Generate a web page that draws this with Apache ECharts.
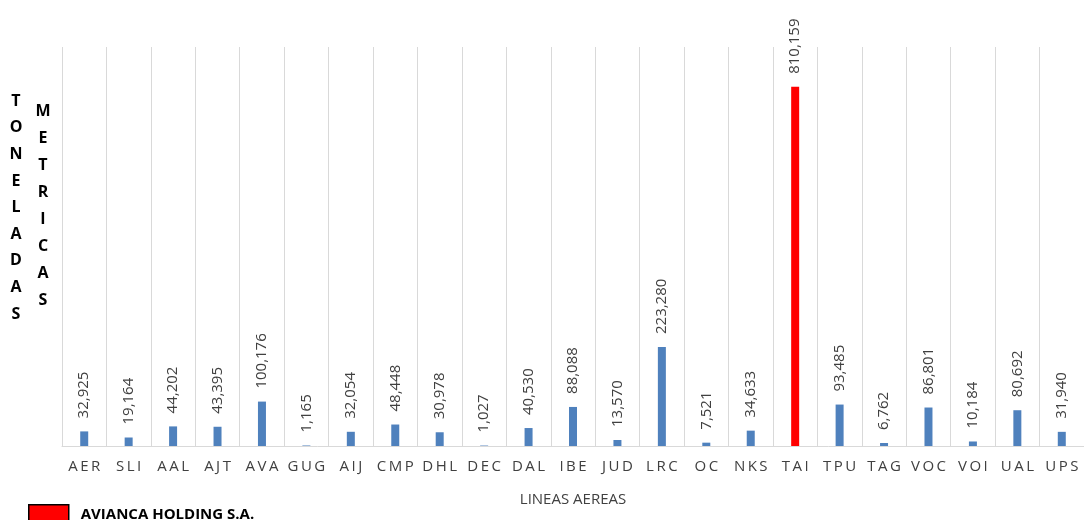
<!DOCTYPE html>
<html>
<head>
<meta charset="utf-8">
<script src="https://cdn.jsdelivr.net/npm/echarts@6/dist/echarts.min.js"></script>
<style>
  html, body { margin: 0; padding: 0; background: #fff; }
  #chart { width: 1084px; height: 520px; }
</style>
</head>
<body>
<div id="chart"></div>
<script>
// aerolineas
const categories = ['AER', 'SLI', 'AAL', 'AJT', 'AVA', 'GUG', 'AIJ', 'CMP', 'DHL', 'DEC', 'DAL', 'IBE',
  'JUD', 'LRC', 'OC', 'NKS', 'TAI', 'TPU', 'TAG', 'VOC', 'VOI', 'UAL', 'UPS']
// toneladas metricas
const values = [32925, 19164, 44202, 43395, 100176, 1165, 32054, 48448, 30978, 1027, 40530, 88088,
  13570, 223280, 7521, 34633, 810159, 93485, 6762, 86801, 10184, 80692, 31940]
const highlight = 'TAI'

const chart = echarts.init(document.getElementById('chart'))

const labelOpt = {
  show: true,
  position: 'top',
  rotate: 90,
  align: 'left',
  verticalAlign: 'middle',
  distance: 13,
  color: '#404040',
  fontSize: 15,
  fontFamily: 'Open Sans',
  formatter: p => p.value.toLocaleString('en-US')
}

const option = {
  animation: false,
  grid: { left: 62, right: 0, top: 47, bottom: 74 },
  legend: {
    left: 23, top: 499,
    icon: 'rect',
    itemWidth: 40, itemHeight: 19,
    textStyle: { fontWeight: 'bold', fontSize: 15, color: '#000', fontFamily: 'Open Sans',
      padding: [0, 0, 0, 7] },
    data: [{ name: 'AVIANCA HOLDING S.A.', itemStyle: { borderColor: '#000', borderWidth: 1.5 } }]
  },
  xAxis: {
    type: 'category',
    data: categories,
    name: 'LINEAS AEREAS',
    nameLocation: 'middle',
    nameGap: 46,
    nameTextStyle: { color: '#404040', fontSize: 15, fontFamily: 'Open Sans' },
    axisLine: { lineStyle: { color: '#d9d9d9' } },
    axisTick: { show: false },
    splitLine: { show: true, lineStyle: { color: '#d9d9d9' } },
    axisLabel: {
      interval: 0, margin: 13,
      color: '#404040', fontSize: 15, fontFamily: 'Open Sans',
      formatter: v => v.split('').join('\u2009')
    }
  },
  yAxis: {
    type: 'value', min: 0, max: 900000,
    show: false,
    splitLine: { show: false }
  },
  series: [
    {
      name: 'Toneladas',
      type: 'bar',
      stack: 'a',
      barWidth: 8,
      itemStyle: { color: '#4f81bd' },
      label: labelOpt,
      data: values.map((v, i) => categories[i] === highlight ? null : v)
    },
    {
      name: 'AVIANCA HOLDING S.A.',
      type: 'bar',
      stack: 'a',
      barWidth: 8,
      itemStyle: { color: '#ff0000' },
      label: labelOpt,
      data: values.map((v, i) => categories[i] === highlight ? v : null)
    }
  ],
  graphic: [
    {
      type: 'text', x: 16, y: 88,
      style: { text: 'TONELADAS'.split('').join('\n'), fontSize: 16, fontWeight: 'bold',
        fill: '#000', lineHeight: 26.6, align: 'center', fontFamily: 'Open Sans' }
    },
    {
      type: 'text', x: 43, y: 98,
      style: { text: 'METRICAS'.split('').join('\n'), fontSize: 16, fontWeight: 'bold',
        fill: '#000', lineHeight: 27, align: 'center', fontFamily: 'Open Sans' }
    }
  ]
}

chart.setOption(option)
</script>
</body>
</html>
